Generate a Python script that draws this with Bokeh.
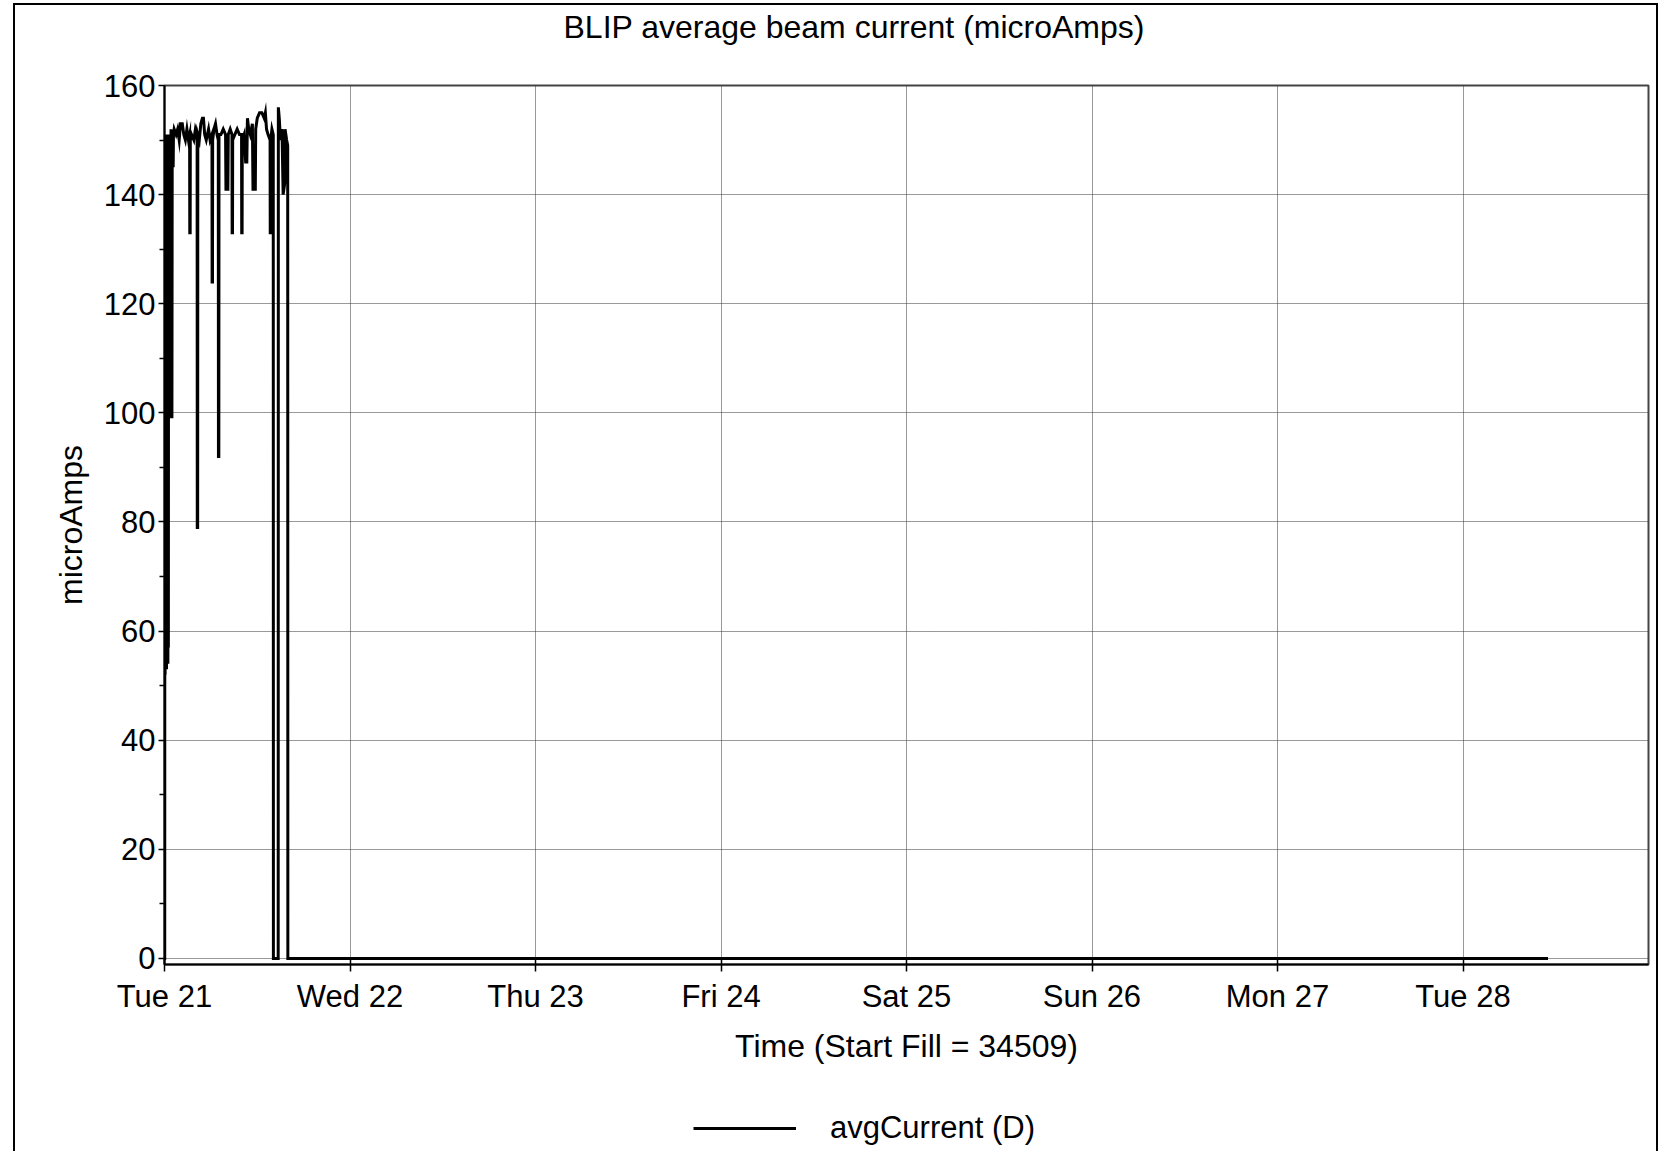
from bokeh.plotting import figure
from bokeh.layouts import column
from bokeh.models import (Range1d, FixedTicker, Legend, LegendItem, Title,
                          ColumnDataSource)
from bokeh.embed import file_html
from bokeh.resources import INLINE

# ---- data ----
title_text = "BLIP average beam current (microAmps)"
x_label = "Time (Start Fill = 34509)"
y_label = "microAmps"
series_name = "avgCurrent (D)"

day_ticks = [0, 1, 2, 3, 4, 5, 6, 7]
day_labels = ["Tue 21", "Wed 22", "Thu 23", "Fri 24", "Sat 25", "Sun 26", "Mon 27", "Tue 28"]
y_ticks = [0, 20, 40, 60, 80, 100, 120, 140, 160]
y_minor = [10, 30, 50, 70, 90, 110, 130, 150]

# hours since Tue 21 00:00
hours = [
    0.00, 0.03, 0.05, 0.08, 0.11, 0.14, 0.17, 0.20, 0.23, 0.26, 0.29, 0.32, 0.35, 0.38,
    0.41, 0.44, 0.47, 0.50, 0.53, 0.56, 0.60, 0.64, 0.68, 0.72, 0.76, 0.80, 0.84, 0.88,
    0.92, 0.96, 1.00, 1.04, 1.08, 1.12, 1.16,
    1.25, 1.50, 1.70, 1.90, 2.07, 2.30, 2.50, 2.70, 2.90, 3.10, 3.25, 3.27, 3.32, 3.34,
    3.50, 3.80, 4.00, 4.22, 4.24, 4.29, 4.31, 4.50, 4.70, 4.90, 5.04, 5.20, 5.40, 5.70,
    5.90, 6.14, 6.16, 6.21, 6.23, 6.40, 6.60, 6.80, 6.96, 6.98, 7.03, 7.05, 7.30, 7.60,
    7.90, 7.95, 8.20, 8.25, 8.50, 8.73, 8.75, 8.80, 8.82, 9.10, 9.40, 9.70, 9.97, 9.99,
    10.04, 10.06, 10.30, 10.50, 10.65, 10.73, 10.90, 11.10, 11.37, 11.45, 11.75, 11.80,
    12.00, 12.30, 12.60, 12.90, 13.05, 13.20, 13.40, 13.66, 13.68, 13.73, 13.75, 13.90,
    14.07, 14.09, 14.71, 14.73, 14.85, 15.00, 15.20, 15.35, 15.55, 15.60, 15.80, 15.94,
    15.96, 179.0,
]
current = [
    0, 0, 150, 52, 149, 55, 150, 58, 151, 53, 149, 60, 150, 56,
    151, 54, 150, 57, 149, 99, 150, 99, 151, 100, 150, 99, 152, 100,
    150, 99, 151, 145, 150, 145, 151,
    152, 151, 152, 150, 153, 153, 151, 150, 152, 150, 151, 133, 133, 150,
    151, 150, 152, 151, 79, 79, 151, 150, 153, 154, 154, 151, 150, 152,
    150, 151, 124, 124, 150, 152, 153, 151, 150, 92, 92, 151, 151, 152,
    151, 141, 141, 151, 152, 151, 133, 133, 150, 151, 152, 151, 151, 133,
    133, 150, 151, 146, 146, 154, 152, 151, 153, 141, 141, 152,
    154, 155, 155, 154, 155, 152, 151, 150, 133, 133, 150, 152,
    151, 0, 0, 156, 154, 150, 152, 140, 142, 152, 150, 149,
    0, 0,
]

days = [h / 24.0 for h in hours]
src = ColumnDataSource(data=dict(x=days, y=current))

FONT = "Liberation Sans"

# ---------------- main chart ----------------
p = figure(width=1641, height=1080,
           x_range=Range1d(0, 8), y_range=Range1d(-1.1, 160),
           output_backend="svg", toolbar_location=None,
           min_border_left=149, min_border_top=80, min_border_right=8,
           min_border_bottom=121)

p.title = Title(text=title_text, align="left", offset=399, vertical_align="bottom",
                standoff=0, text_font=FONT, text_font_size="32px",
                text_font_style="normal", text_color="black")

r = p.line("x", "y", source=src, line_color="black", line_width=3, line_join="miter")

xa = p.xaxis[0]
ya = p.yaxis[0]
xa.ticker = FixedTicker(ticks=day_ticks)
xa.major_label_overrides = {t: l for t, l in zip(day_ticks, day_labels)}
ya.ticker = FixedTicker(ticks=y_ticks, minor_ticks=y_minor)

for ax in (xa, ya):
    ax.axis_line_color = "black"
    ax.axis_line_width = 2
    ax.major_tick_line_color = "black"
    ax.minor_tick_line_color = "black"
    ax.major_tick_line_width = 1.5
    ax.minor_tick_line_width = 1.5
    ax.major_label_text_font = FONT
    ax.major_label_text_font_size = "31px"
    ax.major_label_text_color = "black"
    ax.axis_label_text_font = FONT
    ax.axis_label_text_font_size = "32px"
    ax.axis_label_text_font_style = "normal"
    ax.axis_label_text_color = "black"

xa.axis_label = x_label
xa.major_tick_in = 5
xa.major_tick_out = 7
xa.minor_tick_in = 0
xa.minor_tick_out = 0
xa.major_label_standoff = 7
xa.axis_label_standoff = 11

ya.axis_label = y_label
ya.major_tick_in = 0
ya.major_tick_out = 6
ya.minor_tick_in = 0
ya.minor_tick_out = 5
ya.major_label_standoff = 3
ya.axis_label_standoff = 12

for g in (p.xgrid[0], p.ygrid[0]):
    g.grid_line_color = "#333333"
    g.grid_line_dash = "1 1"
    g.grid_line_width = 1
p.xgrid[0].ticker = FixedTicker(ticks=day_ticks)
p.ygrid[0].ticker = FixedTicker(ticks=y_ticks)

p.outline_line_color = "#444444"
p.outline_line_width = 2
p.background_fill_color = "white"
p.border_fill_color = "white"

# blank panel that reserves room between the title and the plot frame
p.add_layout(Title(text=" ", standoff=38, text_font_size="1px",
                   text_color="white"), "above")

# ---------------- legend strip below the chart ----------------
lg = figure(width=1641, height=66, x_range=Range1d(0, 1), y_range=Range1d(0, 1),
            x_axis_type=None, y_axis_type=None,
            output_backend="svg", toolbar_location=None,
            min_border=0, outline_line_color=None)
lg.grid.visible = False
# legend swatch renderer (its point lies outside the visible range)
lr = lg.line(x=[-1, -1], y=[-1, -1], line_color="black", line_width=3)

legend = Legend(items=[LegendItem(label=series_name, renderers=[lr])],
                orientation="horizontal", location=(529, 5),
                glyph_width=103, glyph_height=20, label_standoff=34,
                label_text_font=FONT, label_text_font_size="31px",
                label_text_color="black",
                border_line_color=None, background_fill_alpha=0,
                padding=0, margin=0, spacing=0)
lg.add_layout(legend, "center")

page = column(p, lg, spacing=0)
# outer frame of the picture (left, top and right edges)
page.styles = {"margin-left": "13px", "margin-top": "3px",
               "border-left": "2px solid black", "border-top": "2px solid black",
               "border-right": "2px solid black"}

open("out.html", "w").write(file_html(page, INLINE))
